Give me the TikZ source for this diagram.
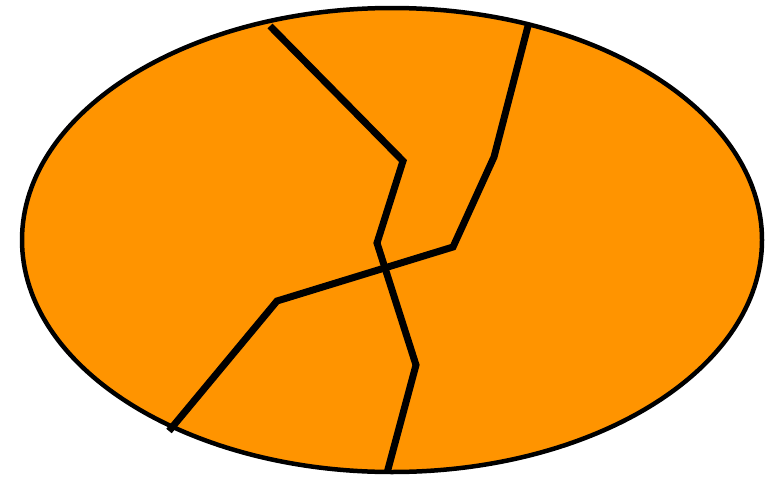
\documentclass[tikz,border=0pt]{standalone}
\definecolor{eggorange}{RGB}{255,148,0}
\begin{document}
\begin{tikzpicture}[x=1pt,y=-1pt,
  crack/.style={line width=7pt,line join=miter,black}]
\useasboundingbox (0,0) rectangle (772,477);
\draw[fill=eggorange,line width=4.5pt] (392,240) ellipse [x radius=370, y radius=232];
\draw[crack] (270,26) -- (403,161) -- (377,243) -- (416,365) -- (387,473);
\draw[crack] (528,26) -- (494,157) -- (453,247) -- (277,301) -- (169,431);
\end{tikzpicture}
\end{document}
